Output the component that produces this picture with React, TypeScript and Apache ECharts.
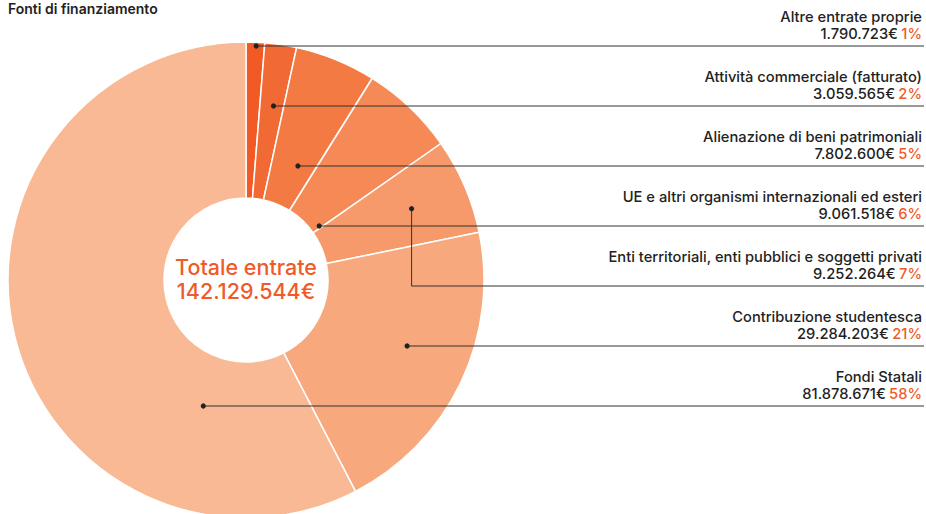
import React, { useEffect, useRef } from "react";
import * as echarts from "echarts";

const categories = [
  "Altre entrate proprie",
  "Attività commerciale (fatturato)",
  "Alienazione di beni patrimoniali",
  "UE e altri organismi internazionali ed esteri",
  "Enti territoriali, enti pubblici e soggetti privati",
  "Contribuzione studentesca",
  "Fondi Statali",
];
const values = [1790723, 3059565, 7802600, 9061518, 9252264, 29284203, 81878671];
const colors = ["#f15a24", "#f26a33", "#f47a43", "#f58a56", "#f79a6b", "#f8a87d", "#f9b994"];
const title = "Fonti di finanziamento";
const centerLabel = "Totale entrate";

const W = 926;
const H = 514;
const CX = 246;
const CY = 280;
const R0 = 82;
const R1 = 238;
const LINE_TOP = 46;
const LINE_GAP = 60;
const RIGHT = 924;
const FONT = "Inter";

function fmt(n: number): string {
  return String(n).replace(/\B(?=(\d{3})+(?!\d))/g, ".");
}

export default function App() {
  const ref = useRef<HTMLDivElement>(null);
  useEffect(() => {
    if (!ref.current) return;
    const chart = echarts.init(ref.current, null, { renderer: "svg" });
    const total = values.reduce((a, b) => a + b, 0);

    const angles: [number, number][] = [];
    let acc = 0;
    values.forEach((v) => {
      const a0 = (acc / total) * 360;
      acc += v;
      const a1 = (acc / total) * 360;
      angles.push([a0, a1]);
    });

    const anchors = values.map((_, i) => {
      const ly = LINE_TOP + i * LINE_GAP;
      const [a0, a1] = angles[i];
      const dy = CY - ly;
      const xs: number[] = [];
      for (let x = CX - R1; x <= CX + R1; x += 0.5) {
        const dx = x - CX;
        const r = Math.sqrt(dx * dx + dy * dy);
        if (r < R0 + 8 || r > R1 - 1) continue;
        let th = (Math.atan2(dx, dy) * 180) / Math.PI;
        if (th < 0) th += 360;
        if (th < a0 + 1 || th > a1 - 1) continue;
        xs.push(x);
      }
      if (xs.length) {
        const xmin = xs[0];
        const xmax = xs[xs.length - 1];
        const x = xmin + 0.6 * (xmax - xmin);
        return { ly, pts: [[x, ly], [RIGHT, ly]] as number[][] };
      }
      const mid = (((a0 + a1) / 2) * Math.PI) / 180;
      const rr = R0 + 0.63 * (R1 - R0);
      const px = CX + rr * Math.sin(mid);
      const py = CY - rr * Math.cos(mid);
      return { ly, pts: [[px, py], [px, ly], [RIGHT, ly]] as number[][] };
    });

    const data = categories.map((name, i) => ({
      name,
      value: values[i],
      itemStyle: { color: colors[i] },
    }));

    const txt = { fontFamily: FONT, fontSize: 14.7, fontWeight: 500, lineHeight: 17, align: "right" };

    chart.setOption({
      animation: false,
      title: {
        text: title,
        left: 8,
        top: 1,
        padding: 0,
        textStyle: { fontFamily: FONT, fontSize: 14, fontWeight: 600, color: "#222" },
      },
      series: [
        {
          type: "pie",
          center: [CX, CY],
          radius: [R0, R1],
          startAngle: 90,
          clockwise: true,
          avoidLabelOverlap: false,
          itemStyle: { borderColor: "#fff", borderWidth: 1.5 },
          emphasis: { disabled: true },
          data,
          label: {
            show: true,
            position: "outside",
            formatter: (p: any) => {
              const pct = Math.round((p.value / total) * 100);
              return `{n|${p.name}}\n{v|${fmt(p.value)}€} {p|${pct}%}`;
            },
            rich: {
              n: { ...txt, color: "#222" },
              v: { ...txt, color: "#222" },
              p: { ...txt, color: "#f05a28" },
            },
          },
          labelLine: { show: false },
          labelLayout: (params: any) => {
            const a = anchors[params.dataIndex];
            return {
              x: RIGHT - 2,
              y: a.ly - 4,
              align: "right",
              verticalAlign: "bottom",
            };
          },
        },
      ],
      graphic: [
        ...anchors.map((a) => ({
          type: "polyline",
          z: 100,
          shape: { points: a.pts },
          style: { stroke: "#333", lineWidth: 1, fill: null },
          silent: true,
        })),
        ...anchors.map((a) => ({
          type: "circle",
          z: 101,
          shape: { cx: a.pts[0][0], cy: a.pts[0][1], r: 2.6 },
          style: { fill: "#222" },
          silent: true,
        })),
        {
          type: "text",
          z: 100,
          x: CX,
          y: CY - 13,
          style: {
            text: centerLabel,
            fontFamily: FONT,
            fontSize: 21.5,
            fontWeight: 500,
            fill: "#f05a28",
            align: "center",
            verticalAlign: "middle",
          },
        },
        {
          type: "text",
          z: 100,
          x: CX,
          y: CY + 11,
          style: {
            text: `${fmt(total)}€`,
            fontFamily: FONT,
            fontSize: 21.5,
            fontWeight: 500,
            fill: "#f05a28",
            align: "center",
            verticalAlign: "middle",
          },
        },
      ],
    });
    return () => chart.dispose();
  }, []);
  return (
    <div
      ref={ref}
      style={{ position: "fixed", left: 0, top: 0, width: W, height: H, background: "#fff" }}
    />
  );
}
